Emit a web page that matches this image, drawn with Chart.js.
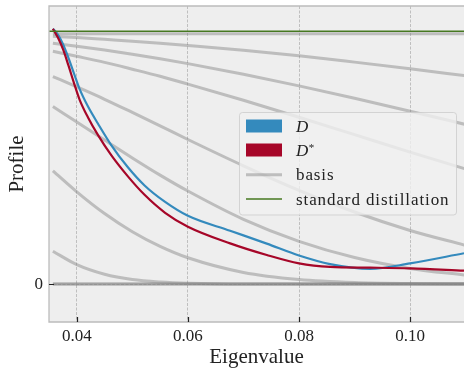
<!DOCTYPE html>
<html>
<head>
<meta charset="utf-8">
<script src="https://cdn.jsdelivr.net/npm/chart.js@4/dist/chart.umd.min.js"></script>
<style>
  html, body { margin: 0; padding: 0; background: #fff; }
  #wrap { width: 464px; height: 368px; overflow: hidden; }
</style>
</head>
<body>
<div id="wrap"><canvas id="profileChart" width="464" height="368"></canvas></div>
<script>
// === Data ===
// eigenvalue grid for the basis curves
const basisX = [0.0357, 0.04, 0.045, 0.05, 0.055, 0.06, 0.07, 0.08, 0.09, 0.10, 0.11];
const basisA = [0.99, 0.99, 0.99, 0.99, 0.99, 0.99, 0.99, 0.99, 0.99, 0.99, 0.99];
const basisB = [0.980, 0.975, 0.968, 0.961, 0.953, 0.944, 0.925, 0.903, 0.878, 0.852, 0.824];
const basisC = [0.953, 0.941, 0.926, 0.909, 0.891, 0.872, 0.830, 0.784, 0.735, 0.684, 0.631];
const basisD = [0.921, 0.901, 0.877, 0.850, 0.822, 0.791, 0.727, 0.660, 0.591, 0.522, 0.455];
const basisE = [0.821, 0.780, 0.731, 0.679, 0.626, 0.572, 0.468, 0.371, 0.285, 0.212, 0.153];
const basisF = [0.702, 0.641, 0.570, 0.499, 0.431, 0.368, 0.256, 0.169, 0.105, 0.062, 0.035];
const basisG = [0.448, 0.365, 0.279, 0.207, 0.149, 0.104, 0.046, 0.018, 0.006, 0.002, 0.001];
const basisH = [0.130, 0.077, 0.039, 0.018, 0.008, 0.003, 0.000, 0, 0, 0, 0];
const basisI = [0, 0, 0, 0, 0, 0, 0, 0, 0, 0, 0];
const basisJ = [0, 0, 0, 0, 0, 0, 0, 0, 0, 0, 0];

// D and D* profiles
const profileX = [0.0357, 0.0366, 0.0375, 0.0385, 0.0395, 0.0405, 0.0420, 0.0438, 0.0462,
                  0.0492, 0.0522, 0.0559, 0.0600, 0.0676, 0.0742, 0.0800, 0.0856,
                  0.0928, 0.1000, 0.1097];
const dValues = [1.01, 0.987, 0.950, 0.895, 0.833, 0.772, 0.703, 0.635, 0.550,
                 0.462, 0.390, 0.325, 0.270, 0.211, 0.160, 0.113, 0.079,
                 0.060, 0.082, 0.122];
const dStarValues = [1.01, 0.975, 0.930, 0.865, 0.795, 0.730, 0.660, 0.590, 0.510,
                     0.426, 0.353, 0.282, 0.227, 0.161, 0.115, 0.082, 0.068,
                     0.065, 0.062, 0.053];

// standard distillation (flat)
const stdX = [0.035, 0.1097];
const stdValues = [1, 1];

const xTicks = [0.04, 0.06, 0.08, 0.10];
const yTicks = [0];

const SERIF = '"Liberation Serif", "DejaVu Serif", serif';
const GRAY = 'rgba(128,128,128,0.45)';

const toPoints = (xs, ys) => xs.map((x, i) => ({ x, y: ys[i] }));

const basisSets = [basisA, basisB, basisC, basisD, basisE, basisF, basisG, basisH, basisI, basisJ]
    .map(vals => ({
        label: 'basis',
        data: toPoints(basisX, vals),
        borderColor: GRAY,
        borderWidth: 3,
        order: 3,
    }));

// === Frame, inner ticks and legend ===
const framePlugin = {
    id: 'framePlugin',
    beforeDraw(chart) {
        const { ctx, chartArea: a } = chart;
        ctx.save();
        ctx.fillStyle = '#eeeeee';
        ctx.fillRect(a.left, a.top, a.right - a.left, a.bottom - a.top);
        ctx.restore();
    },
    afterDatasetsDraw(chart) {
        const { ctx, chartArea: a, scales } = chart;
        ctx.save();
        // spines
        ctx.strokeStyle = '#bcbcbc';
        ctx.lineWidth = 1.3;
        ctx.beginPath();
        ctx.moveTo(a.right, a.top); ctx.lineTo(a.left, a.top);
        ctx.lineTo(a.left, a.bottom); ctx.lineTo(a.right, a.bottom);
        ctx.stroke();
        // inward ticks
        ctx.strokeStyle = '#222';
        ctx.lineWidth = 1.2;
        ctx.beginPath();
        xTicks.forEach(v => {
            const px = Math.round(scales.x.getPixelForValue(v)) + 0.5;
            ctx.moveTo(px, a.bottom); ctx.lineTo(px, a.bottom - 5);
        });
        yTicks.forEach(v => {
            const py = Math.round(scales.y.getPixelForValue(v)) + 0.5;
            ctx.moveTo(a.left, py); ctx.lineTo(a.left + 5, py);
        });
        ctx.stroke();

        // legend box
        const bx = 239.5, by = 112.5, bw = 217, bh = 102.5;
        ctx.beginPath();
        ctx.roundRect(bx, by, bw, bh, 3);
        ctx.fillStyle = 'rgba(240,240,240,0.8)';
        ctx.fill();
        ctx.strokeStyle = 'rgba(204,204,204,0.8)';
        ctx.lineWidth = 1;
        ctx.stroke();

        ctx.fillStyle = '#348ABD';
        ctx.fillRect(246, 119.5, 36, 13);
        ctx.fillStyle = '#A60628';
        ctx.fillRect(246, 143.5, 36, 13);
        ctx.lineCap = 'butt';
        ctx.strokeStyle = GRAY;
        ctx.lineWidth = 3;
        ctx.beginPath(); ctx.moveTo(246, 174.7); ctx.lineTo(282, 174.7); ctx.stroke();
        ctx.strokeStyle = '#467821';
        ctx.lineWidth = 1.5;
        ctx.beginPath(); ctx.moveTo(246, 199); ctx.lineTo(282, 199); ctx.stroke();

        ctx.fillStyle = '#222';
        ctx.textBaseline = 'alphabetic';
        ctx.textAlign = 'left';
        ctx.font = 'italic 17px ' + SERIF;
        ctx.fillText('D', 296, 131.5);
        const dw = ctx.measureText('D').width;
        ctx.fillText('D', 296, 155.9);
        ctx.font = '11px ' + SERIF;
        ctx.fillText('*', 296 + dw + 0.5, 150.5);
        ctx.font = '17px ' + SERIF;
        ctx.letterSpacing = '0.9px';
        ctx.fillText('basis', 296, 180.3);
        ctx.fillText('standard distillation', 296, 204.7);
        ctx.restore();
    }
};

const gridOpts = { color: '#b2b2b2', lineWidth: 0.8, drawTicks: false };

new Chart(document.getElementById('profileChart').getContext('2d'), {
    type: 'line',
    data: {
        datasets: [
            {
                label: 'standard distillation',
                data: toPoints(stdX, stdValues),
                borderColor: '#467821',
                borderWidth: 1.5,
                order: 0,
            },
            {
                label: 'D*',
                data: toPoints(profileX, dStarValues),
                borderColor: '#A60628',
                borderWidth: 2.2,
                order: 1,
            },
            {
                label: 'D',
                data: toPoints(profileX, dValues),
                borderColor: '#348ABD',
                borderWidth: 2.2,
                order: 2,
            },
            ...basisSets,
        ]
    },
    options: {
        responsive: false,
        animation: false,
        devicePixelRatio: 1,
        events: [],
        layout: { padding: { top: 6, right: 0, bottom: 0, left: 0 } },
        elements: {
            point: { radius: 0 },
            line: { fill: false, cubicInterpolationMode: 'monotone', borderCapStyle: 'butt' },
        },
        scales: {
            x: {
                type: 'linear',
                min: 0.035,
                max: 0.1097,
                afterBuildTicks: (scale) => { scale.ticks = xTicks.map(v => ({ value: v })); },
                afterFit: (scale) => {
                    scale.height = 46;
                    scale.paddingLeft = 0;
                    scale.paddingRight = 0;
                },
                ticks: {
                    callback: (v) => Number(v).toFixed(2),
                    font: { family: SERIF, size: 17 },
                    color: '#222',
                    padding: 4,
                    maxRotation: 0,
                },
                grid: gridOpts,
                border: { display: false, dash: [3, 1.5] },
                title: {
                    display: true,
                    text: 'Eigenvalue',
                    font: { family: SERIF, size: 21, lineHeight: 1 },
                    color: '#222',
                    padding: { top: 0, bottom: 0 },
                },
            },
            y: {
                type: 'linear',
                min: -0.15,
                max: 1.1,
                afterBuildTicks: (scale) => { scale.ticks = yTicks.map(v => ({ value: v })); },
                afterFit: (scale) => {
                    scale.width = 49;
                    scale.paddingTop = 0;
                    scale.paddingBottom = 0;
                },
                ticks: {
                    callback: (v) => String(v),
                    font: { family: SERIF, size: 17 },
                    color: '#222',
                    padding: 6,
                },
                grid: gridOpts,
                border: { display: false, dash: [3, 1.5] },
                title: {
                    display: true,
                    text: 'Profile',
                    font: { family: SERIF, size: 21, lineHeight: 1 },
                    color: '#222',
                    padding: { top: 7, bottom: 0 },
                },
            },
        },
        plugins: {
            legend: { display: false },
            tooltip: { enabled: false },
        },
    },
    plugins: [framePlugin],
});
</script>
</body>
</html>
